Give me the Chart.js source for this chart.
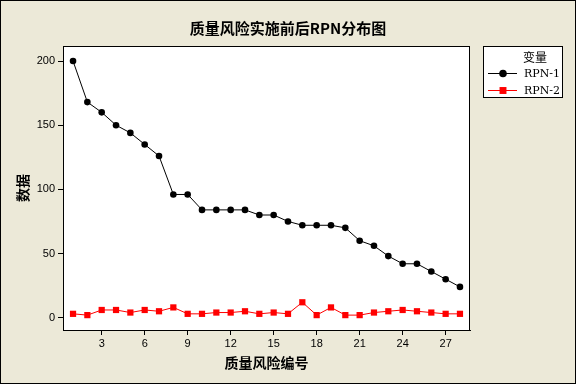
<!DOCTYPE html>
<html>
<head>
<meta charset="utf-8">
<script src="https://cdn.jsdelivr.net/npm/chart.js@4.4.1/dist/chart.umd.min.js"></script>
<style>
  html, body { margin: 0; padding: 0; background: #ECE9D8; }
  #wrap { width: 576px; height: 384px; }
</style>
</head>
<body>
<div id="wrap"><canvas id="rpn-chart" width="576" height="384"></canvas></div>
<script>
// 质量风险编号
const itemNumbers = [1, 2, 3, 4, 5, 6, 7, 8, 9, 10, 11, 12, 13, 14,
  15, 16, 17, 18, 19, 20, 21, 22, 23, 24, 25, 26, 27, 28];
// RPN before
const rpn1 = [200, 168, 160, 150, 144, 135, 126, 96, 96, 84, 84, 84, 84, 80,
  80, 75, 72, 72, 72, 70, 60, 56, 48, 42, 42, 36, 30, 24];
// RPN after
const rpn2 = [3, 2, 6, 6, 4, 6, 5, 8, 3, 3, 4, 4, 5, 3,
  4, 3, 12, 2, 8, 2, 2, 4, 5, 6, 5, 4, 3, 3];
const xTickValues = [3, 6, 9, 12, 15, 18, 21, 24, 27];
const yTickValues = [0, 50, 100, 150, 200];

const chartTitle = '质量风险实施前后RPN分布图';
const legendTitle = '变量';

const bgColor = '#ECE9D8';

//draws the frame, title and boxed legend like the original
const framePlugin = {
  id: 'frame',
  beforeDraw(chart) {
    const ctx = chart.ctx;
    const a = chart.chartArea;
    ctx.save();
    ctx.fillStyle = bgColor;
    ctx.fillRect(0, 0, chart.width, chart.height);
    ctx.fillStyle = '#ffffff';
    ctx.fillRect(a.left, a.top, a.right - a.left, a.bottom - a.top);
    ctx.restore();
  },
  afterDraw(chart) {
    const ctx = chart.ctx;
    const a = chart.chartArea;
    ctx.save();
    ctx.strokeStyle = '#000000';
    ctx.lineWidth = 1;
    //plot box
    ctx.strokeRect(Math.round(a.left) + 0.5, Math.round(a.top) + 0.5,
      Math.round(a.right - a.left) - 1, Math.round(a.bottom - a.top));
    //outer border
    ctx.strokeRect(0.5, 0.5, chart.width - 1, chart.height - 1);

    //title
    ctx.fillStyle = '#000000';
    ctx.font = 'bold 15px "Noto Sans CJK SC", sans-serif';
    ctx.textAlign = 'center';
    ctx.textBaseline = 'middle';
    ctx.fillText(chartTitle, 288, 28);

    //legend box
    const lx = 483, ly = 46, lw = 80, lh = 52;
    ctx.fillStyle = '#ffffff';
    ctx.fillRect(lx, ly, lw, lh);
    ctx.strokeRect(lx + 0.5, ly + 0.5, lw - 1, lh - 1);
    ctx.fillStyle = '#000000';
    ctx.font = '12px "Noto Sans CJK SC", sans-serif';
    ctx.fillText(legendTitle, 535, 57);

    chart.data.datasets.forEach((ds, i) => {
      const y = 73 + i * 17;
      ctx.strokeStyle = ds.borderColor;
      ctx.lineWidth = 1;
      ctx.beginPath();
      ctx.moveTo(488, y + 0.5);
      ctx.lineTo(517, y + 0.5);
      ctx.stroke();
      ctx.fillStyle = ds.pointBackgroundColor;
      Chart.helpers.drawPoint(ctx, {
        pointStyle: ds.pointStyle,
        radius: ds.pointRadius + 0.5,
        rotation: 0,
        borderWidth: 0
      }, 503, y + 0.5);
      ctx.fillStyle = '#000000';
      ctx.font = '11px "DejaVu Serif", serif';
      ctx.textAlign = 'left';
      ctx.fillText(ds.label, 524, y + 1);
    });
    ctx.restore();
  }
};

const tickFont = { family: '"Liberation Sans", sans-serif', size: 11 };
const axisTitleFont = { family: '"Noto Sans CJK SC", sans-serif', size: 14, weight: 'bold' };

new Chart(document.getElementById('rpn-chart'), {
  type: 'line',
  plugins: [framePlugin],
  data: {
    datasets: [
      {
        label: 'RPN-1',
        data: itemNumbers.map((n, i) => ({ x: n, y: rpn1[i] })),
        borderColor: '#000000',
        backgroundColor: '#000000',
        pointBackgroundColor: '#000000',
        pointBorderWidth: 0,
        pointStyle: 'circle',
        pointRadius: 3.3,
        borderWidth: 1,
        tension: 0
      },
      {
        label: 'RPN-2',
        data: itemNumbers.map((n, i) => ({ x: n, y: rpn2[i] })),
        borderColor: '#ff0000',
        backgroundColor: '#ff0000',
        pointBackgroundColor: '#ff0000',
        pointBorderWidth: 0,
        pointStyle: 'rect',
        pointRadius: 4.4,
        borderWidth: 1,
        tension: 0
      }
    ]
  },
  options: {
    responsive: false,
    animation: false,
    layout: { padding: { top: 46, right: 106, left: 0, bottom: 0 } },
    plugins: {
      legend: { display: false },
      title: { display: false },
      tooltip: { enabled: false }
    },
    scales: {
      x: {
        type: 'linear',
        min: 0.3,
        max: 28.7,
        afterBuildTicks: (scale) => { scale.ticks = xTickValues.map(v => ({ value: v })); },
        afterFit: (scale) => { scale.height = 54; },
        grid: { display: true, drawOnChartArea: false, drawTicks: true, tickLength: 5, color: '#000000' },
        border: { display: true, color: '#000000' },
        ticks: { color: '#000000', font: tickFont, padding: 2, maxRotation: 0, autoSkip: false },
        title: { display: true, text: '质量风险编号', color: '#000000', font: axisTitleFont, padding: { top: 0, bottom: 13 } }
      },
      y: {
        type: 'linear',
        min: -9.6,
        max: 211.7,
        afterBuildTicks: (scale) => { scale.ticks = yTickValues.map(v => ({ value: v })); },
        afterFit: (scale) => { scale.width = 63; },
        grid: { display: true, drawOnChartArea: false, drawTicks: true, tickLength: 5, color: '#000000' },
        border: { display: true, color: '#000000' },
        ticks: { color: '#000000', font: tickFont, padding: 3 },
        title: { display: true, text: '数据', color: '#000000', font: axisTitleFont, padding: { top: 14, bottom: 0 } }
      }
    }
  }
});
</script>
</body>
</html>
